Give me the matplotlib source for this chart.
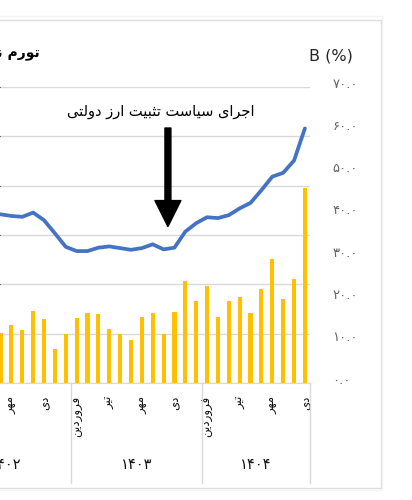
import matplotlib.pyplot as plt
from matplotlib.patches import Rectangle
from matplotlib.transforms import blended_transform_factory, ScaledTranslation

plt.rcParams['font.family'] = ['DejaVu Sans']

# ---- data ----
years = ['۱۴۰۲', '۱۴۰۳', '۱۴۰۴']
months_per_year = [7, 12, 10]          # 1402 is cut off, starts at month 6
month_no = list(range(6, 13)) + list(range(1, 13)) + list(range(1, 11))
month_names = {1: 'فروردین', 4: 'تیر', 7: 'مهر', 10: 'دی'}

bar_values = [11.8, 13.7, 12.5, 17.0, 15.2, 8.1, 11.7,
              15.3, 16.6, 16.3, 12.7, 11.6, 10.2, 15.6, 16.6, 11.7, 16.9, 24.2, 19.5,
              23.0, 15.7, 19.3, 20.4, 16.6, 22.2, 29.3, 19.9, 24.5, 46.0]
line_values = [39.9, 39.5, 39.3, 40.3, 38.5, 35.4, 32.2,
               31.2, 31.2, 32.0, 32.3, 31.9, 31.5, 31.9, 32.8, 31.6, 32.0, 35.8, 37.8,
               39.2, 39.0, 39.7, 41.3, 42.6, 45.6, 48.8, 49.7, 52.6, 60.2]

b_ticks = [0, 10, 20, 30, 40, 50, 60, 70]
b_tick_labels = ['۰.۰', '۱۰.۰', '۲۰.۰', '۳۰.۰', '۴۰.۰', '۵۰.۰', '۶۰.۰', '۷۰.۰']
a_ticks = [0, 10, 20, 30, 40, 50, 60]   # left axis (cropped away), only its grid shows

title = 'تورم نقطه به نقطه'
note = 'اجرای سیاست تثبیت ارز دولتی'
note_month = 15.4    # arrow sits between azar and dey 1403


# ---- tiny persian shaper: matplotlib has no bidi / joining ----
FORMS = {
    'ا': ('\uFE8D', '\uFE8E', None, None),
    'ب': ('\uFE8F', '\uFE90', '\uFE91', '\uFE92'),
    'ت': ('\uFE95', '\uFE96', '\uFE97', '\uFE98'),
    'ث': ('\uFE99', '\uFE9A', '\uFE9B', '\uFE9C'),
    'ج': ('\uFE9D', '\uFE9E', '\uFE9F', '\uFEA0'),
    'د': ('\uFEA9', '\uFEAA', None, None),
    'ر': ('\uFEAD', '\uFEAE', None, None),
    'ز': ('\uFEAF', '\uFEB0', None, None),
    'س': ('\uFEB1', '\uFEB2', '\uFEB3', '\uFEB4'),
    'ط': ('\uFEC1', '\uFEC2', '\uFEC3', '\uFEC4'),
    'ف': ('\uFED1', '\uFED2', '\uFED3', '\uFED4'),
    'ق': ('\uFED5', '\uFED6', '\uFED7', '\uFED8'),
    'ل': ('\uFEDD', '\uFEDE', '\uFEDF', '\uFEE0'),
    'م': ('\uFEE1', '\uFEE2', '\uFEE3', '\uFEE4'),
    'ن': ('\uFEE5', '\uFEE6', '\uFEE7', '\uFEE8'),
    'ه': ('\uFEE9', '\uFEEA', '\uFEEB', '\uFEEC'),
    'و': ('\uFEED', '\uFEEE', None, None),
    'ی': ('\uFEEF', '\uFEF0', '\uFEF3', '\uFEF4'),
}


def fa(text):
    out = []
    for k, c in enumerate(text):
        if c not in FORMS:
            out.append(c)
            continue
        prev = text[k - 1] if k > 0 else None
        nxt = text[k + 1] if k + 1 < len(text) else None
        join_prev = prev in FORMS and FORMS[prev][2] is not None
        join_next = nxt in FORMS and FORMS[c][2] is not None
        iso, fin, ini, med = FORMS[c]
        if join_prev and join_next:
            out.append(med)
        elif join_prev:
            out.append(fin)
        elif join_next:
            out.append(ini)
        else:
            out.append(iso)
    return ''.join(out)[::-1]


x = list(range(len(bar_values)))
grid_col = '#d9d9d9'

fig = plt.figure(figsize=(4.12, 5.0), dpi=100)

# left axis: only gridlines (its labels are outside the crop)
ax_a = fig.add_axes([0.0, 0.234, 0.7532, 0.592])
ax_a.set_ylim(0, 60)
ax_a.set_yticks(a_ticks)
ax_a.yaxis.grid(True, color=grid_col, linewidth=1)
ax_a.tick_params(axis='y', left=False, labelleft=False)
for s in ['top', 'left', 'right']:
    ax_a.spines[s].set_visible(False)
ax_a.spines['bottom'].set_color(grid_col)
ax_a.set_axisbelow(True)

# right axis B (%)
ax = ax_a.twinx()
ax.set_ylim(0, 70)
ax.bar(x, bar_values, width=0.38, color='#FFC000', zorder=2)
ax.plot(x, line_values, color='#4472C4', linewidth=2.7, solid_capstyle='round', zorder=3)
ax.set_yticks(b_ticks)
ax.set_yticklabels(b_tick_labels, color='#666666', fontsize=9.5)
ax.tick_params(axis='y', length=0, pad=16)
for s in ax.spines.values():
    s.set_visible(False)
# labels in the reference sit a few pixels above their ticks
lift = ScaledTranslation(0, 4.5 / 100, fig.dpi_scale_trans)
for lab in ax.get_yticklabels():
    lab.set_transform(lab.get_transform() + lift)

ax_a.set_xlim(-0.05, len(x) - 0.5)

# month labels every 3 months
ticks = [i for i, m in enumerate(month_no) if m in month_names]
ax_a.set_xticks(ticks)
ax_a.set_xticklabels([fa(month_names[month_no[i]]) for i in ticks],
                     rotation=90, va='top', ha='center', fontsize=8.5, color='#111111')
ax_a.tick_params(axis='x', length=0, pad=9)

# year groups
trans = blended_transform_factory(ax_a.transData, ax_a.transAxes)
start = -0.5 - (12 - months_per_year[0])
edge = -0.5
for k, (yr, n) in enumerate(zip(years, months_per_year)):
    left = start if k == 0 else edge
    edge = edge + n
    ax_a.plot([edge, edge], [0, -0.338], color=grid_col, linewidth=1,
              transform=trans, clip_on=False)
    ax_a.text((left + edge) / 2, -0.277, yr, transform=trans, ha='center',
              va='center', fontsize=10.5, color='#111111')

# annotation
ax.text(14.7, 64.2, fa(note), ha='center', va='center', fontsize=10.5)
ax.annotate('', xy=(note_month, 37.0), xytext=(note_month, 60.3),
            arrowprops=dict(arrowstyle='simple,head_length=18.7,head_width=18.7,tail_width=4.3',
                            mutation_scale=1, color='black', shrinkA=0, shrinkB=0))

# titles
fig.text(40 / 412, 1 - 53 / 500, fa(title), ha='right', va='center',
         fontsize=10, fontweight='bold')
fig.text(331 / 412, 1 - 56 / 500, 'B (%)', ha='center', va='center',
         fontsize=11.5, color='#262626')

# chart box
fig.add_artist(Rectangle((-0.05, 0.024), 0.9748, 0.936, transform=fig.transFigure,
                         fill=False, edgecolor='#dedede', linewidth=1))
fig.add_artist(Rectangle((-0.05, 0.020), 0.976, 0.948, transform=fig.transFigure,
                         fill=False, edgecolor='#f3f3f3', linewidth=1))

fig.savefig('out.png', dpi=100)
